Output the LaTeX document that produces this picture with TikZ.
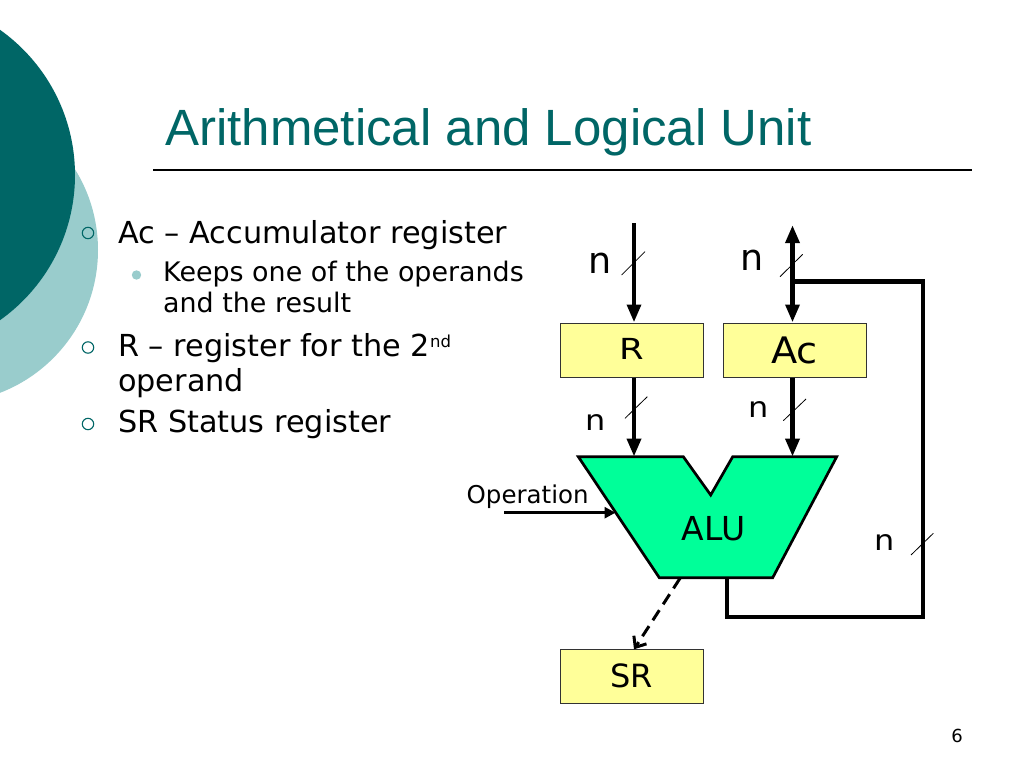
\documentclass[tikz,border=0pt]{standalone}
\usepackage{fontspec}
\setmainfont{DejaVu Sans}
\newfontfamily\titlefont{Liberation Sans}
\usetikzlibrary{arrows.meta}
\definecolor{tealdark}{RGB}{0,102,102}
\definecolor{teallight}{RGB}{153,204,204}
\definecolor{regyellow}{RGB}{255,255,153}
\definecolor{alugreen}{RGB}{0,255,153}
\newcommand{\myfs}[1]{\fontsize{#1}{#1}\selectfont}
\begin{document}
\begin{tikzpicture}[x=1pt,y=-1pt,
  txt/.style={anchor=base west, inner sep=0pt, text=black},
  lbl/.style={anchor=base, inner sep=0pt, text=black},
  reg/.style={draw=black!80, line width=1pt, fill=regyellow, minimum width=143pt, minimum height=54pt, inner sep=0pt},
  bus/.style={line width=4.5pt, line join=miter},
  bigtip/.tip={Triangle[width=13.5pt,length=18pt]},
  slash/.style={line width=0.8pt},
  bullet1/.style={draw=tealdark, line width=1.1pt},
  bullet2/.style={fill=teallight}
]
% canvas
\fill[white] (0,0) rectangle (1024,768);
\useasboundingbox (0,0) rectangle (1024,768);
% decorative circles
\begin{scope}
  \clip (0,0) rectangle (1024,768);
  \fill[teallight] (-55,250) circle (153);
  \fill[tealdark] (-103,175) circle (178);
\end{scope}
% title and rule
\node[anchor=base west, inner sep=0pt, text=tealdark, font=\titlefont\myfs{51}] (title) at (165,145) {Arithmetical and Logical Unit};
\coordinate (ruleL) at (153,170);
\coordinate (ruleR) at (972,170);
\draw[line width=1.3pt] (ruleL) -- (ruleR);
% bullets
\draw[bullet1] (88,233) circle (5.7);
\node[txt, font=\myfs{30.3}] (t1) at (118,243) {Ac – Accumulator register};
\fill[bullet2] (136.5,275) circle (4.7);
\node[txt, font=\myfs{26.9}] (t2) at (163,281) {Keeps one of the operands};
\node[txt, font=\myfs{26.9}] (t3) at (163,312.5) {and the result};
\draw[bullet1] (88,347.5) circle (5.7);
\node[txt, font=\myfs{30.3}] (t4) at (118,356) {R – register for the 2\raisebox{9pt}{\myfs{16.5}nd}};
\node[txt, font=\myfs{30.3}] (t5) at (118,391.5) {operand};
\draw[bullet1] (88,424) circle (5.7);
\node[txt, font=\myfs{30.3}] (t6) at (118,432) {SR Status register};
% registers
\node[reg, font=\myfs{29}] (R) at (631.5,350) {\raisebox{2pt}{\scalebox{1.22}[1]{R}}};
\node[reg, font=\myfs{36.5}] (Ac) at (794.5,350) {\scalebox{1.05}[1]{Ac}};
\node[reg, font=\myfs{32}] (SR) at (631.5,676) {SR};
% ALU polygon
\coordinate (a1) at (578.3,456.7);
\coordinate (a2) at (683.3,456.7);
\coordinate (a3) at (710.7,495);
\coordinate (a4) at (732.7,456.7);
\coordinate (a5) at (836.7,456.7);
\coordinate (a6) at (772.7,577.7);
\coordinate (a7) at (659.3,577.7);
\draw[fill=alugreen, line width=2.7pt, line join=miter] (a1) -- (a2) -- (a3) -- (a4) -- (a5) -- (a6) -- (a7) -- cycle;
\node[lbl, font=\myfs{33}] (alu) at (713.5,540) {ALU};
% bus wires
\coordinate (rin) at (634,223);
\coordinate (acin) at (792.5,225);
\coordinate (aluR) at (634,456.7);
\coordinate (aluAc) at (792.5,456.7);
\draw[bus, -{bigtip}] (rin) -- (rin |- R.north);
\draw[bus, {bigtip}-{bigtip}] (acin) -- (acin |- Ac.north);
\draw[bus, -{bigtip}] (rin |- R.south) -- (aluR);
\draw[bus, -{bigtip}] (acin |- Ac.south) -- (aluAc);
% feedback loop
\coordinate (fb0) at (727,577.7);
\coordinate (fbBR) at (923,617);
\coordinate (fbTR) at (923,281.7);
\coordinate (fbJ) at (792.5,281.7);
\draw[bus] (fb0) |- (fbBR) -- (fbTR) -- (fbJ);
% operation input
\coordinate (opin) at (504,512.7);
\coordinate (opend) at (615.5,512.7);
\draw[line width=3pt, -{Triangle[width=11pt,length=11pt]}] (opin) -- (opend);
\node[txt, font=\myfs{24.5}] (op) at (466.5,503.3) {Operation};
% status output
\coordinate (srout) at (680,578.3);
\coordinate (srin) at (634,649.3);
\draw[line width=3pt, dash pattern=on 12pt off 7pt, -{Straight Barb[length=9pt,width=15pt,line width=3pt]}] (srout) -- (srin);
% bus width slashes
\draw[slash] (621.6,275) -- (645,251.6);
\draw[slash] (780,276.7) -- (802.7,254.3);
\draw[slash] (625,418.3) -- (647.3,396.7);
\draw[slash] (783.3,420.7) -- (806,399);
\draw[slash] (911,555) -- (933.3,533.3);
% n labels
\node[lbl, font=\myfs{36.5}] (n1) at (600,273.3) {n};
\node[lbl, font=\myfs{36.5}] (n2) at (752,270) {n};
\node[lbl, font=\myfs{28.5}] (n3) at (595.5,430) {\scalebox{1.12}[1]{n}};
\node[lbl, font=\myfs{28.5}] (n4) at (759,417.3) {\scalebox{1.12}[1]{n}};
\node[lbl, font=\myfs{28.5}] (n5) at (885,550) {\scalebox{1.12}[1]{n}};
% page number
\node[lbl, font=\myfs{18}] (pg) at (957,742.5) {6};
\end{tikzpicture}
\end{document}
